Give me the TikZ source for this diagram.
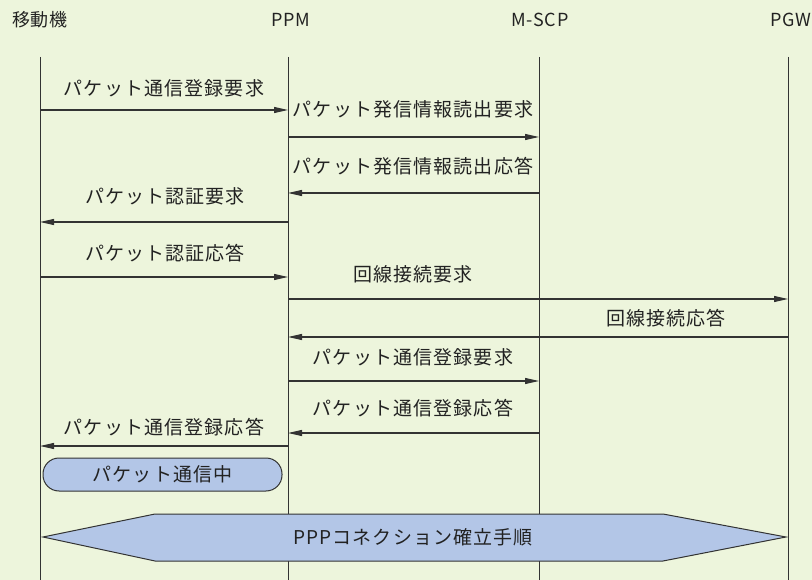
\documentclass[tikz,border=0pt]{standalone}
\usepackage{fontspec}
\setmainfont{Noto Sans CJK JP}[LetterSpace=6]
\newfontfamily\hdrfont{Noto Sans CJK JP}[LetterSpace=4]
\usetikzlibrary{arrows.meta}
\definecolor{bg}{HTML}{EDF5DC}
\definecolor{ln}{HTML}{333333}
\definecolor{boxfill}{HTML}{B3C6E7}
\definecolor{txt}{HTML}{222222}
\tikzset{
  lifeline/.style={draw=ln, line width=0.9pt},
  msg/.style={draw=ln, line width=1.1pt, -{Triangle[length=14pt,width=6pt]}},
  lbl/.style={text=txt, inner sep=0pt, font=\fontsize{19}{22}\selectfont},
  hdr/.style={text=txt, inner sep=0pt, font=\hdrfont\fontsize{18}{21}\selectfont},
}
\begin{document}
\begin{tikzpicture}[x=1pt,y=-1pt]
\fill[bg] (0,0) rectangle (812,580);
\useasboundingbox (0,0) rectangle (812,580);
% headers
\node[hdr] (hms) at (40,20) {移動機};
\node[hdr] (hppm) at (291,20) {PPM};
\node[hdr] (hscp) at (540,20) {M-SCP};
\node[hdr] (hpgw) at (791,20) {PGW};
% lifelines
\coordinate (ms) at (40,57);
\coordinate (ppm) at (288,57);
\coordinate (scp) at (539,57);
\coordinate (pgw) at (788,57);
\coordinate (bot) at (0,580);
\draw[lifeline] (ms) -- (ms |- bot);
\draw[lifeline] (ppm) -- (ppm |- bot);
\draw[lifeline] (scp) -- (scp |- bot);
\draw[lifeline] (pgw) -- (pgw |- bot);
% message rows
\coordinate (y1) at (0,110);
\coordinate (y2) at (0,137);
\coordinate (y3) at (0,193);
\coordinate (y4) at (0,222);
\coordinate (y5) at (0,277);
\coordinate (y6) at (0,299);
\coordinate (y7) at (0,337);
\coordinate (y8) at (0,381);
\coordinate (y9) at (0,433);
\coordinate (y10) at (0,446);
\draw[msg] (ms |- y1) -- (ppm |- y1);
\draw[msg] (ppm |- y2) -- (scp |- y2);
\draw[msg] (scp |- y3) -- (ppm |- y3);
\draw[msg] (ppm |- y4) -- (ms |- y4);
\draw[msg] (ms |- y5) -- (ppm |- y5);
\draw[msg] (ppm |- y6) -- (pgw |- y6);
\draw[msg] (pgw |- y7) -- (ppm |- y7);
\draw[msg] (ppm |- y8) -- (scp |- y8);
\draw[msg] (scp |- y9) -- (ppm |- y9);
\draw[msg] (ppm |- y10) -- (ms |- y10);
% labels
\node[lbl] (l1) at (164,88) {パケット通信登録要求};
\node[lbl] (l2) at (413,109) {パケット発信情報読出要求};
\node[lbl] (l3) at (413,166) {パケット発信情報読出応答};
\node[lbl] (l4) at (165,196) {パケット認証要求};
\node[lbl] (l5) at (165,253) {パケット認証応答};
\node[lbl] (l6) at (413,274) {回線接続要求};
\node[lbl] (l7) at (666,318) {回線接続応答};
\node[lbl] (l8) at (413,357) {パケット通信登録要求};
\node[lbl] (l9) at (413,408) {パケット通信登録応答};
\node[lbl] (l10) at (164,427) {パケット通信登録応答};
% state box
\node[draw=ln, line width=1pt, fill=boxfill, rounded corners=16pt,
      minimum width=239pt, minimum height=33pt, inner sep=0pt,
      text=txt, font=\fontsize{19}{22}\selectfont] (state) at (162.5,474.5) {パケット通信中};
% PPP hexagon arrow
\draw[draw=ln, line width=1pt, fill=boxfill]
  (43,537) -- (155,514) -- (663,514) -- (786,537) -- (663,561) -- (155,561) -- cycle;
\node[lbl] (ppp) at (413,537) {PPPコネクション確立手順};
\end{tikzpicture}
\end{document}
